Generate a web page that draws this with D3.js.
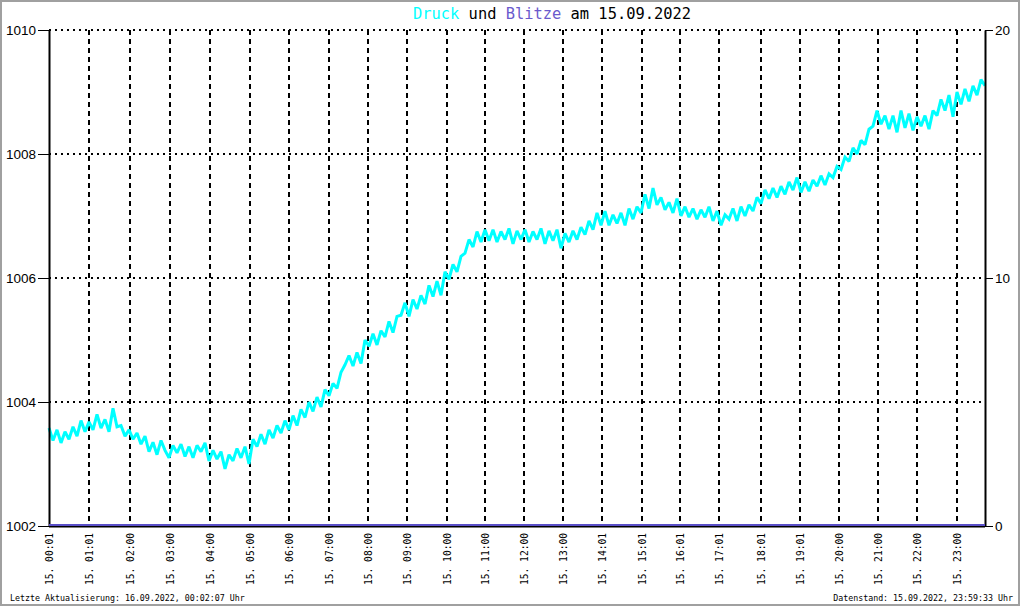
<!DOCTYPE html>
<html><head><meta charset="utf-8">
<script src="https://cdn.jsdelivr.net/npm/d3@7"></script>
<style>body{margin:0;background:#fff} svg{display:block}</style>
</head><body>
<svg id="c" width="1020" height="606"></svg>
<script>
// Luftdruck (hPa), ein Wert je Messschritt
const pressure = [
1003.58,1003.38,1003.55,1003.34,1003.52,1003.40,1003.60,1003.45,1003.70,1003.52,
1003.68,1003.55,1003.80,1003.58,1003.72,1003.52,1003.90,1003.60,1003.62,1003.45,
1003.55,1003.40,1003.50,1003.32,1003.45,1003.20,1003.35,1003.15,1003.38,1003.22,
1003.10,1003.30,1003.18,1003.32,1003.12,1003.28,1003.10,1003.30,1003.20,1003.34,
1003.05,1003.22,1003.08,1003.20,1002.92,1003.15,1003.05,1003.25,1003.10,1003.28,
1003.00,1003.40,1003.28,1003.48,1003.32,1003.55,1003.42,1003.62,1003.50,1003.70,
1003.55,1003.78,1003.62,1003.88,1003.75,1004.00,1003.85,1004.08,1003.92,1004.20,
1004.10,1004.30,1004.22,1004.48,1004.60,1004.75,1004.58,1004.80,1004.62,1005.00,
1004.90,1005.10,1004.92,1005.15,1005.05,1005.30,1005.12,1005.38,1005.40,1005.60,
1005.38,1005.65,1005.50,1005.72,1005.58,1005.88,1005.70,1005.95,1005.72,1006.10,
1005.98,1006.22,1006.10,1006.35,1006.40,1006.62,1006.50,1006.75,1006.58,1006.78,
1006.60,1006.78,1006.58,1006.75,1006.62,1006.80,1006.55,1006.76,1006.62,1006.78,
1006.58,1006.75,1006.62,1006.80,1006.55,1006.76,1006.60,1006.78,1006.48,1006.72,
1006.58,1006.76,1006.62,1006.82,1006.70,1006.92,1006.78,1007.05,1006.85,1007.08,
1006.85,1007.02,1006.88,1007.05,1006.85,1007.12,1006.95,1007.15,1007.05,1007.35,
1007.12,1007.45,1007.18,1007.30,1007.10,1007.22,1007.05,1007.28,1007.00,1007.15,
1006.98,1007.12,1006.95,1007.10,1006.98,1007.15,1006.92,1007.08,1006.85,1007.02,
1006.95,1007.12,1006.92,1007.15,1007.00,1007.18,1007.08,1007.30,1007.20,1007.42,
1007.28,1007.45,1007.30,1007.48,1007.35,1007.55,1007.42,1007.62,1007.38,1007.55,
1007.40,1007.58,1007.48,1007.65,1007.50,1007.68,1007.62,1007.80,1007.75,1007.95,
1007.88,1008.10,1008.00,1008.22,1008.15,1008.40,1008.45,1008.70,1008.48,1008.62,
1008.40,1008.62,1008.35,1008.70,1008.42,1008.65,1008.38,1008.60,1008.45,1008.62,
1008.40,1008.70,1008.62,1008.88,1008.70,1008.95,1008.60,1009.00,1008.80,1009.05,
1008.85,1009.10,1008.95,1009.20,1009.10
];
// Blitze (Anzahl) je Stunde
const blitze = [0,0,0,0,0,0,0,0,0,0,0,0,0,0,0,0,0,0,0,0,0,0,0,0,0];
const timeLabels = ["15. 00:01","15. 01:01","15. 02:00","15. 03:00","15. 04:00","15. 05:00",
 "15. 06:00","15. 07:00","15. 08:00","15. 09:00","15. 10:00","15. 11:00","15. 12:00",
 "15. 13:00","15. 14:01","15. 15:01","15. 16:01","15. 17:01","15. 18:01","15. 19:01",
 "15. 20:00","15. 21:00","15. 22:00","15. 23:00"];
// Messschritt-Index, an dem die jeweilige Uhrzeit liegt
const tickIndex = [0,10.1,20.25,30.25,40.25,50.25,60.1,70,79.75,89.6,99.5,109,118.75,
 128.5,138.25,148.25,157.75,167.5,178,187.75,197.5,207.25,217,226.9];
const pressureTicks = [1002,1004,1006,1008,1010];
const blitzeTicks = [0,10,20];

const m = {l:49, r:985, t:30, b:526};
const svg = d3.select('#c');
svg.append('rect').attr('x',1).attr('y',1).attr('width',1018).attr('height',604)
  .attr('fill','#fff').attr('stroke','#a0a0a0').attr('stroke-width',2);

const x = d3.scaleLinear().domain([0, pressure.length-1]).range([m.l, m.r]);
const xb = d3.scaleLinear().domain([0, blitze.length-1]).range([m.l, m.r]);
const yL = d3.scaleLinear().domain([1002,1010]).range([m.b, m.t]);
const yR = d3.scaleLinear().domain([0,20]).range([m.b, m.t]);

// grid
svg.append('g').selectAll('line').data(pressureTicks.slice(1)).join('line')
  .attr('x1', m.l).attr('x2', m.r).attr('y1', d=>yL(d)).attr('y2', d=>yL(d))
  .attr('stroke','#000').attr('stroke-width',2).attr('stroke-dasharray','2,4');
svg.append('g').selectAll('line').data(tickIndex.slice(1)).join('line')
  .attr('x1', d=>Math.round(x(d))).attr('x2', d=>Math.round(x(d)))
  .attr('y1', m.t).attr('y2', m.b)
  .attr('stroke','#000').attr('stroke-width',2).attr('stroke-dasharray','5,4');

// pressure line
svg.append('path').datum(pressure)
  .attr('d', d3.line().x((d,i)=>x(i)).y(d=>yL(d)))
  .attr('fill','none').attr('stroke','#00ffff').attr('stroke-width',3)
  .attr('stroke-linejoin','miter').attr('stroke-miterlimit',2);

// axes
const axL = svg.append('g').attr('transform',`translate(${m.l},0)`)
  .call(d3.axisLeft(yL).tickValues(pressureTicks).tickFormat(d3.format('d')).tickSize(11).tickSizeOuter(0).tickPadding(2));
const axR = svg.append('g').attr('transform',`translate(${m.r},0)`)
  .call(d3.axisRight(yR).tickValues(blitzeTicks).tickFormat(d3.format('d')).tickSize(8).tickSizeOuter(0).tickPadding(2));
[axL, axR].forEach(a => {
  a.select('.domain').attr('stroke','#000').attr('stroke-width',2);
  a.selectAll('.tick line').attr('stroke','#000').attr('stroke-width',1);
  a.selectAll('.tick text').attr('font-family','"Liberation Sans", Arial, sans-serif')
    .attr('font-size','13.5px').attr('fill','#000');
});

// Blitze line (base)
svg.append('line').attr('x1',m.l).attr('x2',m.r).attr('y1',m.b+0.5).attr('y2',m.b+0.5)
  .attr('stroke','#000').attr('stroke-width',2);
svg.append('path').datum(blitze)
  .attr('d', d3.line().x((d,i)=>xb(i)).y(d=>yR(d)-1))
  .attr('fill','none').attr('stroke','#5a4fc8').attr('stroke-width',2);

// x labels
svg.append('g').selectAll('text').data(timeLabels).join('text')
  .attr('transform', (d,i)=>`translate(${Math.round(x(tickIndex[i]))+1},533) rotate(-90)`)
  .attr('dy','0.35em').attr('text-anchor','end')
  .attr('font-family','"DejaVu Sans Mono", monospace').attr('font-size','9.6px')
  .attr('fill','#000').text(d=>d);

// title
const t = svg.append('text').attr('x',413).attr('y',19)
  .attr('font-family','"DejaVu Sans Mono", monospace').attr('font-size','15.4px');
t.append('tspan').attr('fill','#00ffff').text('Druck');
t.append('tspan').attr('fill','#000').text(' und ');
t.append('tspan').attr('fill','#6a5acd').text('Blitze');
t.append('tspan').attr('fill','#000').text(' am 15.09.2022');

// footer
svg.append('text').attr('x',10).attr('y',601)
  .attr('font-family','"DejaVu Sans Mono", monospace').attr('font-size','8.3px').attr('fill','#000')
  .text('Letzte Aktualisierung: 16.09.2022, 00:02:07 Uhr');
svg.append('text').attr('x',1013).attr('y',601).attr('text-anchor','end')
  .attr('font-family','"DejaVu Sans Mono", monospace').attr('font-size','8.3px').attr('fill','#000')
  .text('Datenstand: 15.09.2022, 23:59:33 Uhr');
</script>
</body></html>
